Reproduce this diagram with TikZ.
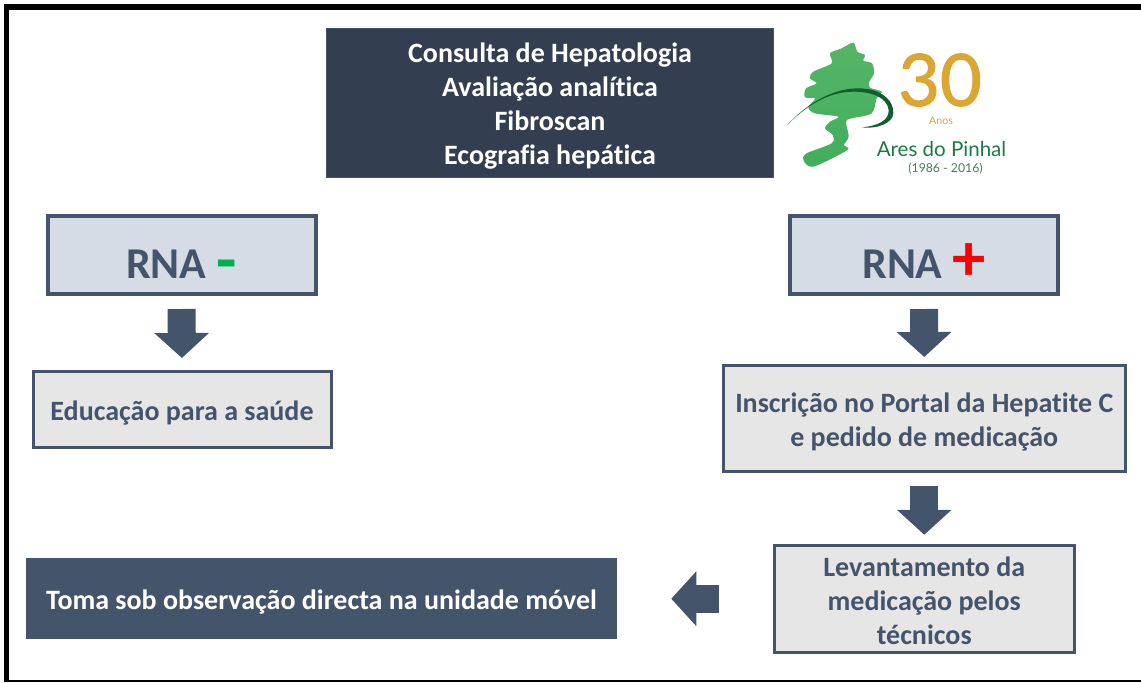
\documentclass[tikz,border=0pt]{standalone}
\usepackage{fontspec}
\setmainfont[Ligatures=NoCommon]{Carlito}
\newfontfamily\logofont{Lato}
\newfontfamily\logonumfont[FakeBold=1.5]{Lato}
\usetikzlibrary{arrows.meta}

\definecolor{slatedark}{HTML}{44546A}
\definecolor{navybox}{HTML}{333F50}
\definecolor{bluefill}{HTML}{D6DCE5}
\definecolor{greyfill}{HTML}{E7E6E6}
\definecolor{logogold}{HTML}{DBA634}
\definecolor{logogreen}{HTML}{1B7A43}
\definecolor{leaftop}{HTML}{55B566}
\definecolor{leafmid}{HTML}{2F9F58}
\definecolor{leafbot}{HTML}{41AE5C}
\definecolor{swoosh}{HTML}{0F5E2E}

\newcommand{\toppad}[1]{\rule{0pt}{#1}}

\tikzset{
    basebox/.style={rectangle,inner sep=0pt,align=center,font=\fontsize{21}{25.5}\selectfont\bfseries},
    rnabox/.style={basebox,draw=slatedark,line width=3pt,fill=bluefill,text=slatedark,
        minimum width=201pt,minimum height=58pt,text height=35.25pt,text depth=0pt,
        font=\fontsize{33}{36}\selectfont\bfseries},
    stepbox/.style={basebox,draw=slatedark,line width=2.25pt,fill=greyfill,text=slatedark},
    darkbox/.style={basebox,text=white},
    blockarrow/.style={draw=slatedark,line width=21pt,
        -{Triangle[width=40pt,length=18.75pt]}},
    framebar/.style={fill=black},
}

\begin{document}
\begin{tikzpicture}[x=0.75pt,y=-0.75pt]
\useasboundingbox (0,0) rectangle (1141,682);

\fill[framebar] (4,4) rectangle (1141,10);
\fill[framebar] (4,4) rectangle (9,682);
\fill[framebar] (4,680) rectangle (1141,682);

\node[darkbox,fill=navybox,draw=slatedark,line width=0.75pt,minimum width=335.5pt,minimum height=111.75pt] (consulta) at (550,102.5)
    {\toppad{19.5pt}Consulta de Hepatologia\\Avaliação analítica\\Fibroscan\\Ecografia hepática};

\node[rnabox] (rnaneg) at (181.5,255) {RNA {\fontsize{50}{36}\selectfont\raisebox{-3pt}{\textcolor[HTML]{00B050}{-}}}};
\node[rnabox] (rnapos) at (924,255) {RNA {\fontsize{50}{36}\selectfont\raisebox{-1.5pt}{\textcolor{red}{+}}}};

\node[stepbox,minimum width=223.5pt,minimum height=57pt] (educacao) at (182,409.5) {\toppad{20pt}Educação para a saúde};
\node[stepbox,minimum width=301.5pt,minimum height=79.5pt] (inscricao) at (924.25,418.5)
    {\toppad{20pt}Inscrição no Portal da Hepatite C\\e pedido de medicação};
\node[stepbox,minimum width=225pt,minimum height=80.25pt] (levantamento) at (924.25,598.75)
    {\toppad{18pt}Levantamento da\\medicação pelos\\técnicos};
\node[darkbox,fill=slatedark,minimum width=443.25pt,minimum height=60.75pt] (toma) at (321.5,598.75)
    {\toppad{19.5pt}Toma sob observação directa na unidade móvel};

\draw[blockarrow,shorten <=10pt,shorten >=9pt] (rnaneg.south) -- (educacao.north);
\draw[blockarrow,shorten <=10pt,shorten >=5.25pt] (rnapos.south) -- (inscricao.north);
\draw[blockarrow,shorten <=9.75pt,shorten >=6.75pt] (inscricao.south) -- (levantamento.north);
\draw[blockarrow,shorten <=40.5pt,shorten >=40.5pt] (levantamento.west) -- (toma.east);

% logo
\begin{scope}[shift={(770,20)},x=0.25pt,y=-0.25pt]
\shade[top color=leaftop,middle color=leafmid,bottom color=leafbot]
    plot[smooth cycle,tension=0.5] coordinates {(250,68) (262,95) (285,105) (280,122) (306,130) (312,160) (298,185) (300,203)
    (335,215) (320,235) (305,280) (245,295) (228,305) (236,350) (222,375) (232,390) (130,440) (100,420) (110,400) (185,370)
    (188,345) (165,325) (180,305) (205,290) (135,280) (115,262) (135,235) (105,232) (108,205) (140,190) (120,175) (130,155)
    (185,130) (180,100) (215,85)};
\fill[swoosh] (52,315) .. controls (120,240) and (210,195) .. (290,207)
    .. controls (340,213) and (372,245) .. (370,280) .. controls (368,310) and (320,328) .. (275,322)
    .. controls (325,318) and (358,300) .. (356,270) .. controls (352,235) and (310,215) .. (250,215)
    .. controls (170,215) and (100,265) .. (52,315) -- cycle;
\end{scope}
\node[text=logogold,inner sep=0pt,font=\logonumfont\fontsize{54}{54}\selectfont] (trinta) at (940,80) {30};
\node[text=logogold,inner sep=0pt,font=\logofont\fontsize{8}{8}\selectfont] (anos) at (941,121) {Anos};
\node[text=logogreen,inner sep=0pt,font=\logofont\fontsize{15.4}{18}\selectfont] (ares) at (941.5,149) {Ares do Pinhal};
\node[text=logogreen!60!gray,inner sep=0pt,font=\logofont\fontsize{9.2}{10}\selectfont] (anosdata) at (945.5,168.5) {(1986 - 2016)};
\end{tikzpicture}
\end{document}
